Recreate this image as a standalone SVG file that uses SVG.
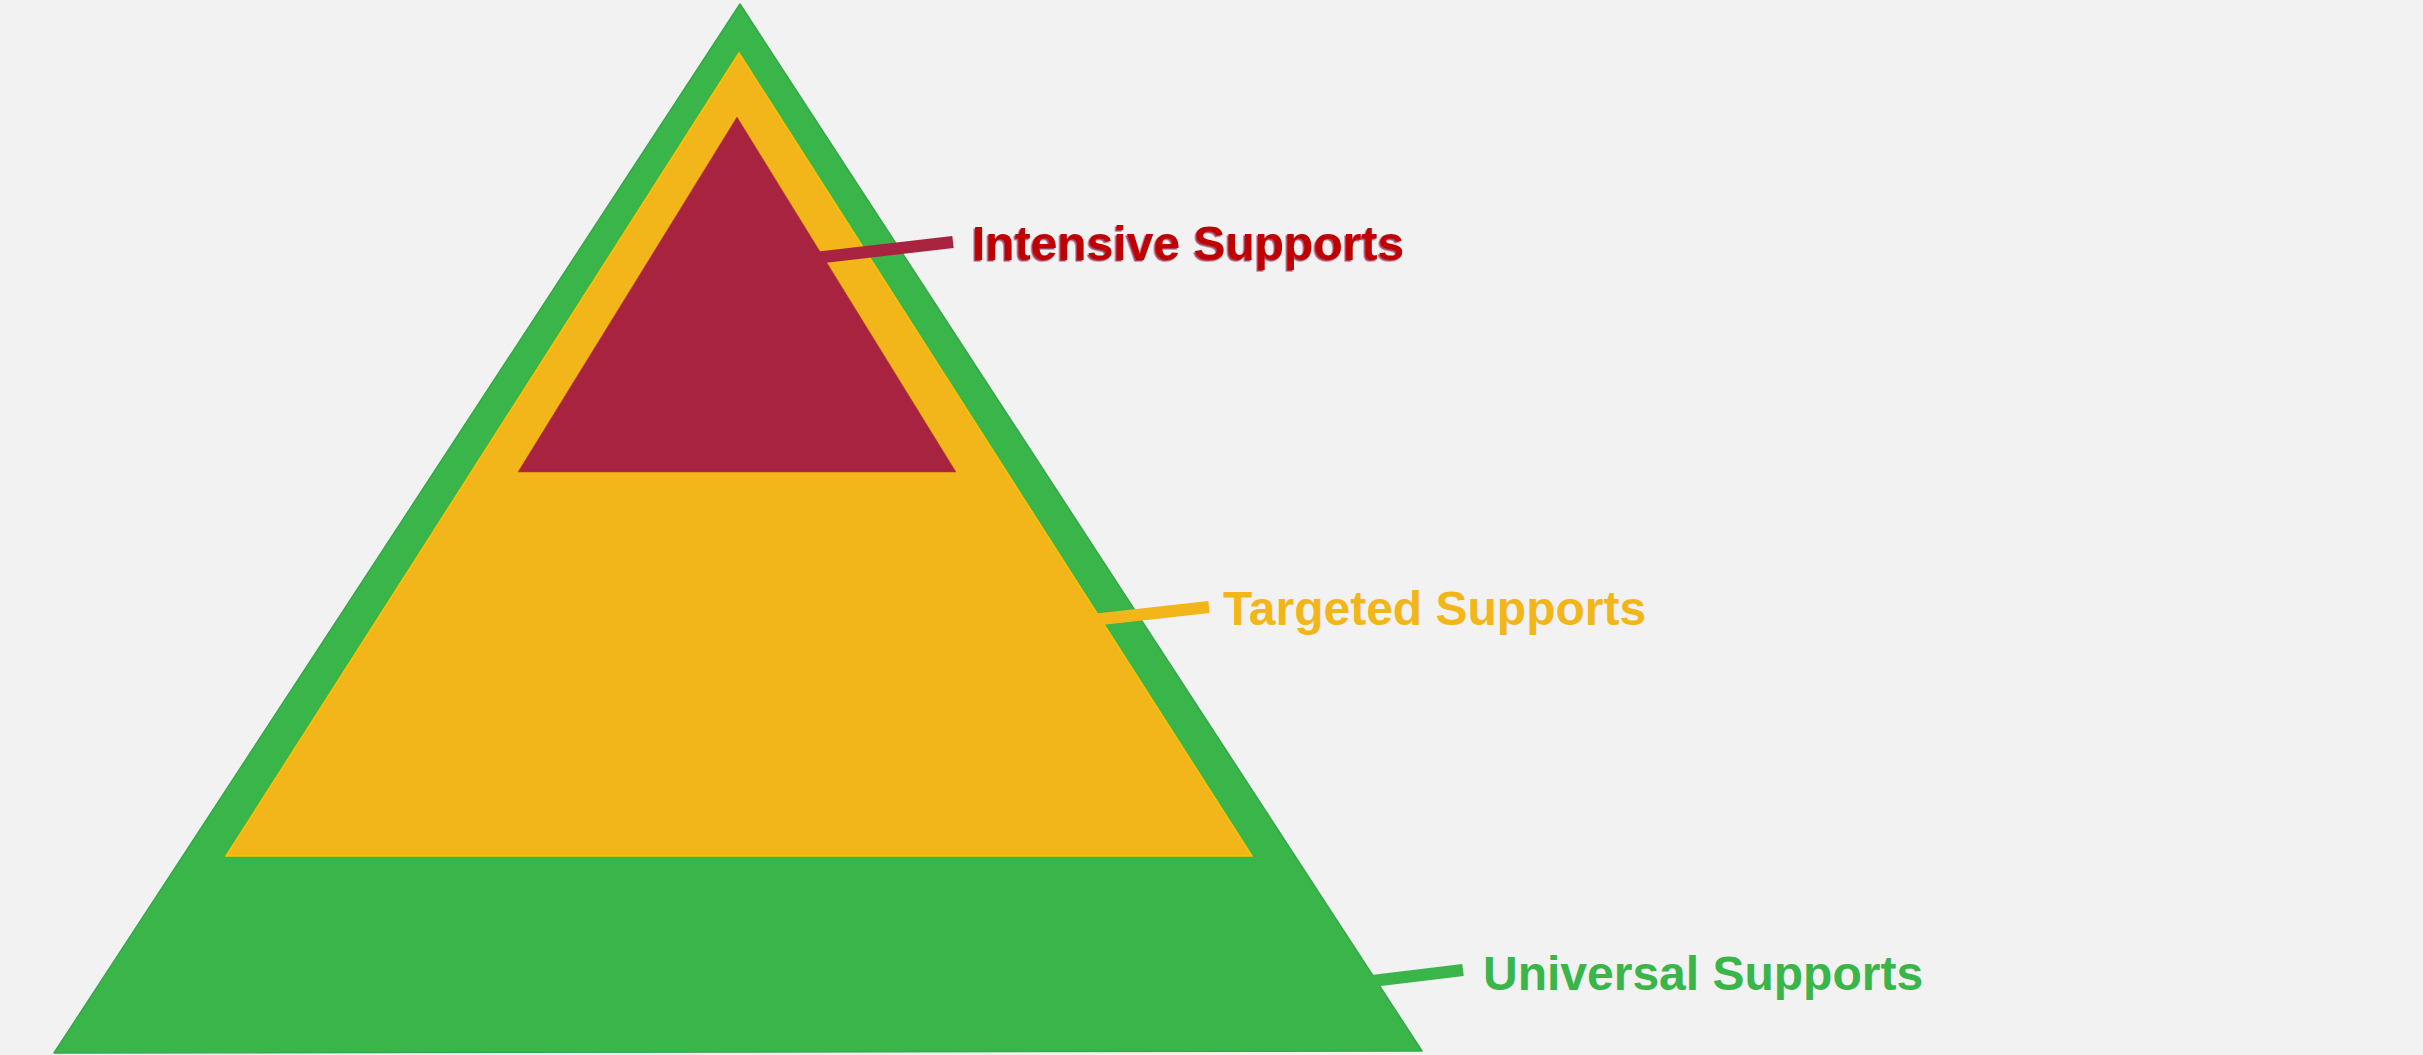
<svg xmlns="http://www.w3.org/2000/svg" width="2423" height="1055" viewBox="0 0 2423 1055">
  <defs>
    <style>
      .lbl { font-family: "Liberation Sans", Arial, sans-serif; font-weight: bold; font-size: 48px; }
      .lead { fill: none; stroke-width: 12; stroke-linecap: butt; }
    </style>
    <filter id="shadow" x="-5%" y="-20%" width="110%" height="140%">
      <feDropShadow dx="-1.5" dy="1.5" stdDeviation="0.6" flood-color="#8E1E3A" flood-opacity="0.8"/>
    </filter>
  </defs>
  <rect width="2423" height="1055" fill="#F2F2F2"/>

  <g id="universal">
    <polygon points="740,4 1422,1051 54,1053" fill="#39B54A" stroke="#34A84A" stroke-width="1.5" stroke-linejoin="round"/>
    <text class="lbl" x="1483" y="990" fill="#39B54A">Universal Supports</text>
  </g>

  <g id="targeted">
    <polygon points="739,53 1252,856 226,856" fill="#F3B61A" stroke="#FFC000" stroke-width="1.5"/>
    <text class="lbl" x="1223" y="625" fill="#F3B61A">Targeted Supports</text>
  </g>

  <g id="intensive">
    <polygon points="737,117 956,472 518,472" fill="#A8233F" stroke="#C0392B" stroke-width="1" stroke-opacity="0.5"/>
    <text class="lbl" x="972" y="260" fill="#C00000" filter="url(#shadow)">Intensive Supports</text>
  </g>

  <g id="connectors">
    <line class="lead" x1="815" y1="258" x2="953" y2="242" stroke="#A8233F"/>
    <line class="lead" x1="1092" y1="620" x2="1209" y2="607" stroke="#F3B61A"/>
    <line class="lead" x1="1372" y1="981" x2="1463" y2="970" stroke="#39B54A"/>
  </g>
</svg>
